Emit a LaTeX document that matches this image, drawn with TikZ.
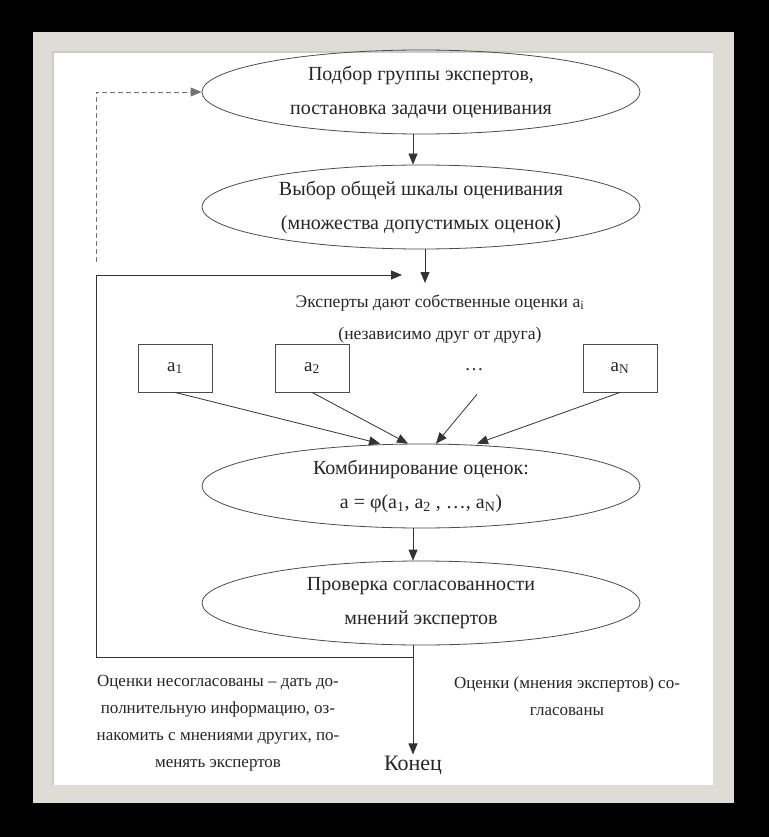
\documentclass[tikz,border=0pt]{standalone}
\usepackage{fontspec}
\setmainfont{Liberation Serif}
\usetikzlibrary{shapes.geometric, arrows.meta}
\definecolor{framegrey}{RGB}{222,220,213}

\begin{document}
\begin{tikzpicture}[x=1pt, y=-1pt,
  oval/.style={draw=black!70, line width=0.8pt, ellipse, minimum width=438pt, minimum height=84pt, inner sep=0pt, align=center, text=black!85, font=\fontsize{20}{34}\selectfont},
  estbox/.style={draw=black!70, line width=0.8pt, minimum width=74pt, minimum height=48pt, inner sep=0pt, text=black!85, font=\fontsize{19}{22}\selectfont},
  note/.style={align=center, text=black!85, font=\fontsize{17}{27}\selectfont},
  link/.style={black!80, line width=0.8pt, -{Triangle[length=11pt, width=9pt]}}]

% Background and frame
\useasboundingbox (0,0) rectangle (769,837);
\fill[black] (0,0) rectangle (769,837);
\fill[framegrey] (33,32) rectangle (734,803);
\fill[white] (53,52) rectangle (713,785);
\draw[black!20, line width=1.2pt] (53,785) -- (53,52) -- (713,52);

% Steps
\node[oval] (select) at (421,92) {Подбор группы экспертов,\\постановка задачи оценивания};
\node[oval] (scale) at (421,207) {Выбор общей шкалы оценивания\\(множества допустимых оценок)};
\node[note, font=\fontsize{17.6}{32}\selectfont] (experts) at (440,319) {Эксперты дают собственные оценки a\textsubscript{i}\\(независимо друг от друга)};

% Estimates
\node[estbox] (a1) at (175,368) {a\textsubscript{1}};
\node[estbox] (a2) at (312,368) {a\textsubscript{2}};
\node[estbox, draw=none] (dots) at (474,370) {\dots};
\node[estbox] (aN) at (620,368) {a\textsubscript{N}};

\node[oval] (combine) at (421,486) {Комбинирование оценок:\\a = φ(a\textsubscript{1}, a\textsubscript{2} , …, a\textsubscript{N})};
\node[oval] (check) at (421,603) {Проверка согласованности\\мнений экспертов};

% Outcomes
\node[inner sep=1pt, text=black!85, font=\fontsize{22}{24}\selectfont] (end) at (413,765) {Конец};
\node[note] (disagree) at (218,723) {Оценки несогласованы – дать до-\\полнительную информацию, оз-\\накомить с мнениями других, по-\\менять экспертов};
\node[note] (agree) at (567,696) {Оценки (мнения экспертов) со-\\гласованы};

% Connectors
\coordinate (in) at (425,283);
\coordinate (back) at (402,275);
\coordinate (join) at (413,657);
\coordinate (corner) at (96,657);
\coordinate (dashstart) at (96,262);

\draw[link] ([xshift=-8pt]select.south) -- ([xshift=-8pt]scale.north);
\draw[link] (scale.south -| in) -- (in);
\draw[link] (a1.south) -- ([xshift=-41pt]combine.north);
\draw[link] (a2.south) -- ([xshift=-13pt]combine.north);
\draw[link] ([xshift=3pt]dots.south) -- ([xshift=15pt]combine.north);
\draw[link] (aN.south) -- ([xshift=56pt]combine.north);
\draw[link] ([xshift=-8pt]combine.south) -- ([xshift=-8pt]check.north);
\draw[link] (check.south -| join) -- (end.north);
\draw[link] (join) -- (corner) |- (back);
\draw[link, black!55, dash pattern=on 5pt off 3pt] (dashstart) |- (select.west);

\end{tikzpicture}
\end{document}
